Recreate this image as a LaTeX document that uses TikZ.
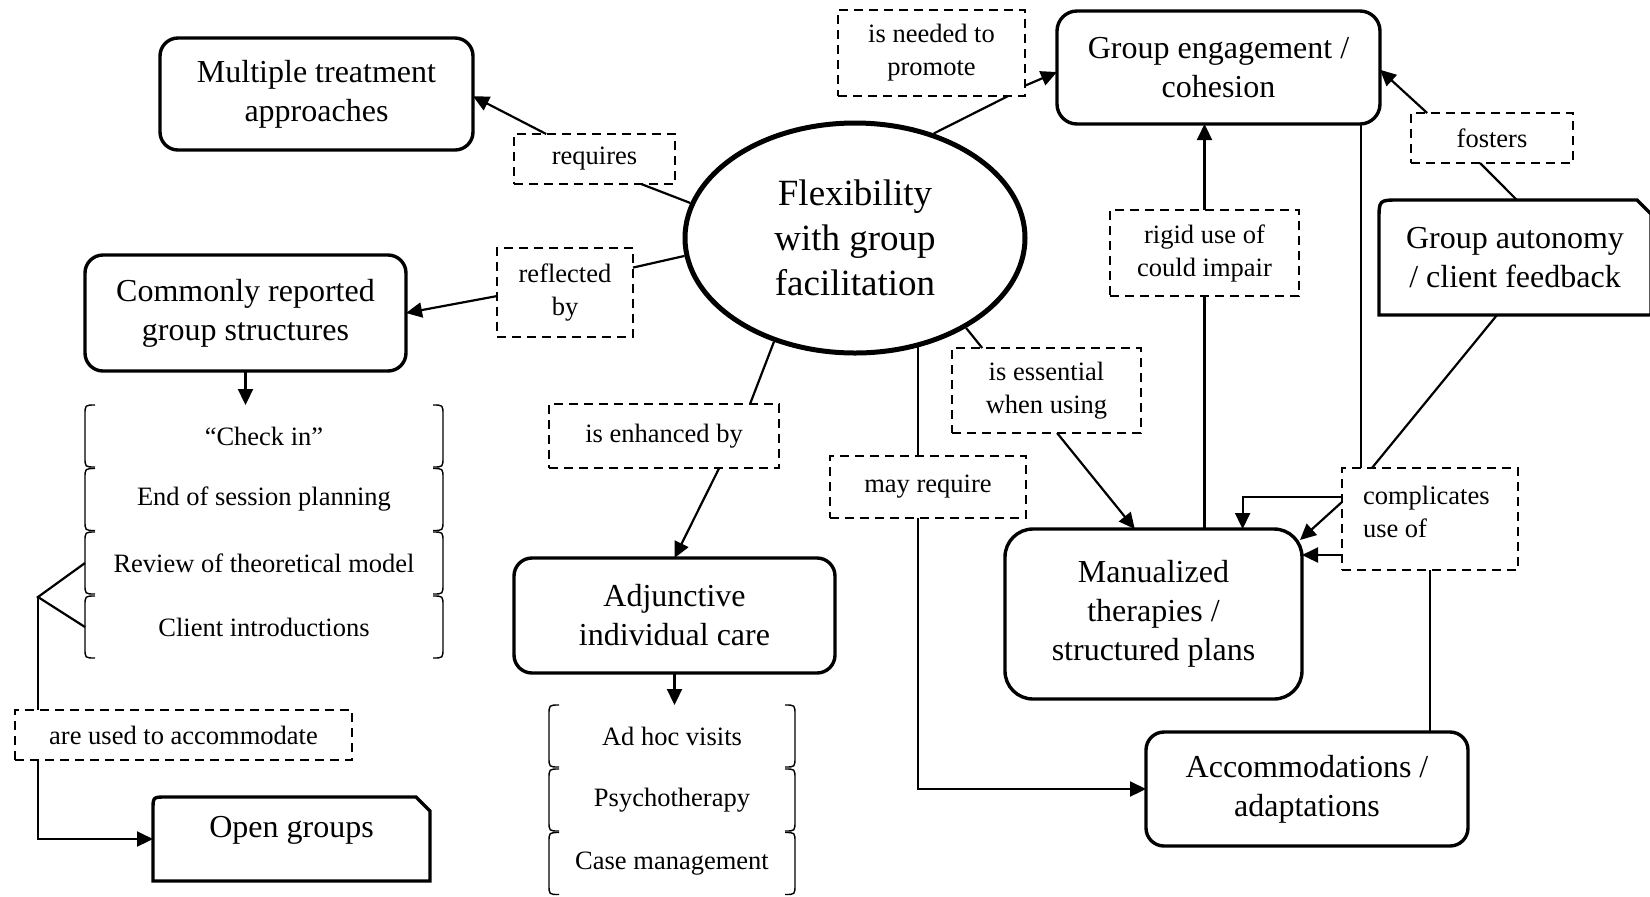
\documentclass[tikz,border=0pt]{standalone}
\usepackage{fontspec}
\setmainfont{Liberation Serif}
\usetikzlibrary{arrows.meta,calc,shapes.geometric}
\tikzset{
  bigfont/.style={font=\fontsize{16pt}{19.5pt}\selectfont},
  mainbox/.style={bigfont, align=center, draw, line width=1.7pt, rounded corners=9pt, inner sep=0pt, outer sep=0pt},
  lab/.style={draw, line width=1.15pt, dash pattern=on 4.5pt off 3pt, font=\fontsize{13.25pt}{16.5pt}\selectfont, align=center, inner sep=0pt, outer sep=0pt},
  conn/.style={line width=1.1pt},
  arr/.style={conn, -{Triangle[length=8pt,width=7.5pt]}},
  itemrow/.style={font=\fontsize{13.25pt}{16.5pt}\selectfont, inner sep=0pt, outer sep=0pt, minimum height=31pt},
  brk/.style={line width=0.7pt},
}
\begin{document}
\begin{tikzpicture}[x=0.5pt,y=-0.5pt]
\useasboundingbox (0,0) rectangle (1650,896);
\fill[white] (0,0) rectangle (1650,896);
\clip (0,0) rectangle (1650,896);

% main boxes
\node[mainbox, minimum width=156.5pt, minimum height=56pt] (multi) at (316.5,94) {Multiple treatment\\approaches};
\node[mainbox, minimum width=160.5pt, minimum height=58pt] (common) at (245.5,313) {Commonly reported\\group structures};
\node[ellipse, draw, line width=2.5pt, minimum width=170pt, minimum height=115pt, inner sep=0pt, font=\fontsize{18.5pt}{22.5pt}\selectfont, align=center] (ell) at (855,238) {Flexibility\\with group\\facilitation};
\node[mainbox, rounded corners=10pt, minimum width=161.5pt, minimum height=56.5pt] (group) at (1218.5,67.5) {Group engagement /\\cohesion};
\node[mainbox, minimum width=160.5pt, minimum height=57.5pt] (adj) at (674.5,615.5) {Adjunctive\\individual care};
\node[mainbox, rounded corners=14pt, minimum width=148.5pt, minimum height=85pt] (manual) at (1153.5,614) {Manualized\\therapies /\\structured plans};
\node[mainbox, minimum width=161pt, minimum height=57pt] (accom) at (1307,789) {Accommodations /\\adaptations};
\node[bigfont, align=center, inner sep=0pt, outer sep=0pt, minimum width=136pt, minimum height=57.5pt] (auton) at (1515,257.5) {Group autonomy\\/ client feedback};
\node[bigfont, inner sep=0pt, outer sep=0pt, minimum width=138.5pt, text height=20.2pt, text depth=21.8pt] (open) at (291.5,839) {Open groups};

% custom outlines
\draw[line width=1.7pt] (open.south west) -- ([yshift=-6.5pt]open.north west) .. controls (open.north west) .. ([xshift=6.5pt]open.north west) -- ([xshift=-7pt]open.north east) -- ([yshift=-7pt]open.north east) -- (open.south east) -- cycle;
\draw[line width=1.7pt] (auton.south west) -- ([yshift=-10pt]auton.north west) .. controls (auton.north west) .. ([xshift=10pt]auton.north west) -- ([xshift=-7pt]auton.north east) -- ([yshift=-7pt]auton.north east) -- (auton.south east) -- cycle;

% dashed labels
\node[lab, minimum width=93.5pt, minimum height=43pt] (needed) at (931.5,53) {is needed to\\promote};
\node[lab, minimum width=80.5pt, minimum height=25pt] (requires) at (594.5,159) {requires};
\node[lab, minimum width=68pt, minimum height=44.5pt] (reflected) at (565,292.5) {reflected\\by};
\node[lab, minimum width=115pt, minimum height=32pt] (enhanced) at (664,436) {is enhanced by};
\node[lab, minimum width=94.5pt, minimum height=42.5pt] (essential) at (1046.5,390.5) {is essential\\when using};
\node[lab, minimum width=98pt, minimum height=31pt] (mayreq) at (928,487) {may require};
\node[lab, minimum width=94.5pt, minimum height=43pt] (rigid) at (1204.5,253) {rigid use of\\could impair};
\node[lab, minimum width=81pt, minimum height=25pt] (fosters) at (1492,138) {fosters};
\node[lab, align=left, minimum width=88pt, minimum height=51pt] (comp) at (1430,519) {\parbox[c][51pt][c]{67pt}{complicates\\use of\par\vspace{7pt}}};
\node[lab, minimum width=168.5pt, minimum height=25pt] (used) at (183.5,735) {are used to accommodate};

% list items
\node[itemrow, minimum width=179pt] (l1a) at (264,436) {“Check in”};
\node[itemrow, minimum width=179pt] (l1b) at (264,499.5) {End of session planning};
\node[itemrow, minimum width=179pt] (l1c) at (264,563) {Review of theoretical model};
\node[itemrow, minimum width=179pt] (l1d) at (264,627) {Client introductions};
\node[itemrow, minimum width=123pt] (l2a) at (672,736) {Ad hoc visits};
\node[itemrow, minimum width=123pt] (l2b) at (672,800) {Psychotherapy};
\node[itemrow, minimum width=123pt] (l2c) at (672,863.5) {Case management};
\foreach \n in {l1a,l1b,l1c,l1d,l2a,l2b,l2c}{
  \draw[brk] ([xshift=5pt]\n.north west) .. controls (\n.north west) .. ([yshift=-5pt]\n.north west) -- ([yshift=5pt]\n.south west) .. controls (\n.south west) .. ([xshift=5pt]\n.south west);
  \draw[brk] ([xshift=-5pt]\n.north east) .. controls (\n.north east) .. ([yshift=-5pt]\n.north east) -- ([yshift=5pt]\n.south east) .. controls (\n.south east) .. ([xshift=-5pt]\n.south east);
}

\coordinate (j) at (38,597);
\coordinate (mt) at ($(mayreq.north west)!0.449!(mayreq.north east)$);
\coordinate (mb) at ($(mayreq.south west)!0.449!(mayreq.south east)$);
\coordinate (cn) at ($(comp.north west)!0.108!(comp.north east)$);
\coordinate (cc) at ($(comp.north west)!0.853!(comp.south west)$);

% connectors
\draw[conn] (ell.53.6) -- ($(needed.south west)!0.91!(needed.south east)$);
\draw[arr] ($(needed.north east)!0.88!(needed.south east)$) -- ($(group.north west)!0.54!(group.south west)$);
\draw[conn] (ell.168.8) -- ($(requires.south west)!0.79!(requires.south east)$);
\draw[arr] ($(requires.north west)!0.2!(requires.north east)$) -- ($(multi.north east)!0.52!(multi.south east)$);
\draw[conn] (ell.186.4) -- ($(reflected.north east)!0.22!(reflected.south east)$);
\draw[arr] ($(reflected.north west)!0.54!(reflected.south west)$) -- (common.east);
\draw[arr] (common.south) -- (common.south |- l1a.north);
\draw[conn] (ell.232.8) -- ($(enhanced.north west)!0.874!(enhanced.north east)$);
\draw[arr] ($(enhanced.south west)!0.74!(enhanced.south east)$) -- (adj.north);
\draw[arr] (adj.south) -- (adj.south |- l2a.north);
\draw[conn] (ell.321.8) -- ($(essential.north west)!0.16!(essential.north east)$);
\draw[arr] ($(essential.south west)!0.556!(essential.south east)$) -- ($(manual.north west)!0.437!(manual.north east)$);
\draw[conn] (mt |- ell.300.5) -- (mt);
\draw[arr] (mb) |- (accom.west);
\draw[conn] (rigid.south |- manual.north) -- (rigid.south);
\draw[arr] (rigid.north) -- (rigid.north |- group.south);
\draw[conn] (cn) -- (cn |- group.south);
\draw[conn] ($(auton.south west)!0.434!(auton.south east)$) -- ($(comp.north west)!0.17!(comp.north east)$);
\draw[conn] ($(auton.north west)!0.507!(auton.north east)$) -- ($(fosters.south west)!0.426!(fosters.south east)$);
\draw[arr] ($(fosters.north west)!0.1!(fosters.north east)$) -- ($(group.north east)!0.52!(group.south east)$);
\draw[arr] ($(comp.north west)!0.284!(comp.south west)$) -| ($(manual.north west)!0.8!(manual.north east)$);
\draw[arr] ($(comp.north west)!0.333!(comp.south west)$) -- ([xshift=-1pt,yshift=-5.5pt]manual.north east);
\draw[arr] (cc) -- (cc -| manual.east);
\draw[conn] (comp.south) -- (comp.south |- accom.north);
\draw[conn] (l1c.west) -- (j) -- (l1d.west);
\draw[conn] (j) -- (j |- used.north);
\draw[arr] (j |- used.south) |- (open.west);
\end{tikzpicture}
\end{document}
